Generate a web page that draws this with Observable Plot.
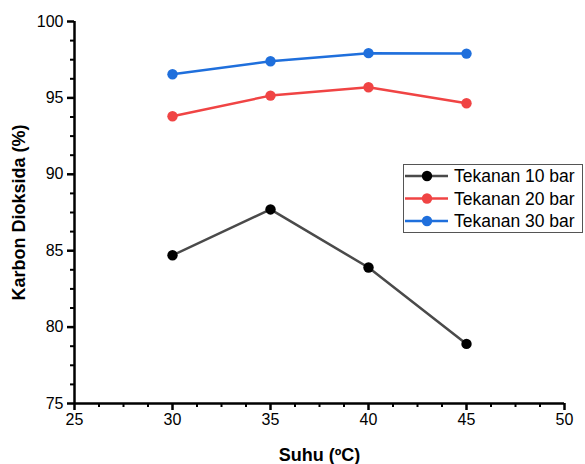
<!DOCTYPE html>
<html><head><meta charset="utf-8">
<script src="https://cdn.jsdelivr.net/npm/d3@7"></script>
<script src="https://cdn.jsdelivr.net/npm/@observablehq/plot@0.6"></script>
<style>
body{margin:0;background:#fff;}
#wrap{position:relative;width:585px;height:464px;font-family:"Liberation Sans",Arial,sans-serif;}
#wrap svg{overflow:visible;}
g[aria-label="y-axis label"] text, g[aria-label="x-axis label"] text{font-weight:bold;font-size:18px;fill:#000;}
#legend{position:absolute;left:403px;top:164px;width:180px;height:69px;border:1.5px solid #555;box-sizing:border-box;background:#fff;}
</style></head><body><div id="wrap"></div>
<script>
const temps=[30,35,40,45];
const seriesNames=["Tekanan 10 bar","Tekanan 20 bar","Tekanan 30 bar"];
const p10=[84.7,87.7,83.9,78.9];
const p20=[93.8,95.15,95.7,94.65];
const p30=[96.55,97.4,97.93,97.9];
const lineColors=["#4a4a4a","#f04444","#1f6fdc"];
const dotColors=["#000000","#f04444","#1f6fdc"];
const xTicks=[25,30,35,40,45,50];
const yTicks=[75,80,85,90,95,100];
const xLabel="Suhu (ºC)";
const yLabel="Karbon Dioksida (%)";

const values=[p10,p20,p30];
const rows=[];
seriesNames.forEach((s,i)=>temps.forEach((t,j)=>rows.push({s,i,t,v:values[i][j]})));
const xMinor=d3.range(xTicks[0],xTicks[xTicks.length-1],1.25).filter(v=>!xTicks.includes(v));
const yMinor=d3.range(yTicks[0],yTicks[yTicks.length-1],1.25).filter(v=>!yTicks.includes(v));

const marks=[
  Plot.axisY(yMinor,{tickSize:4,text:null,strokeWidth:2,label:null}),
  Plot.axisX(xMinor,{tickSize:4,text:null,strokeWidth:2,label:null}),
  Plot.axisY(yTicks,{tickSize:7,tickPadding:4,strokeWidth:2.5,fontSize:16,label:yLabel,labelAnchor:"center",labelArrow:"none",labelOffset:62}),
  Plot.axisX(xTicks,{tickSize:7,tickPadding:3,strokeWidth:2.5,fontSize:16,label:xLabel,labelAnchor:"center",labelArrow:"none",labelOffset:57}),
  Plot.ruleY([yTicks[0]],{strokeWidth:2.5}),
  Plot.ruleX([xTicks[0]],{strokeWidth:2.5})
];
seriesNames.forEach((s,i)=>{
  const d=rows.filter(r=>r.i===i);
  marks.push(Plot.line(d,{x:"t",y:"v",stroke:lineColors[i],strokeWidth:2.5}));
  marks.push(Plot.dot(d,{x:"t",y:"v",fill:dotColors[i],r:5.2,stroke:"none"}));
});

const chart=Plot.plot({
  width:585,height:464,
  marginLeft:74,marginRight:21,marginTop:21,marginBottom:61,
  style:{fontFamily:"'Liberation Sans',Arial,sans-serif",color:"#000",background:"#fff"},
  x:{domain:[xTicks[0],xTicks[xTicks.length-1]]},
  y:{domain:[yTicks[0],yTicks[yTicks.length-1]]},
  marks
});
const wrap=document.getElementById("wrap");
wrap.appendChild(chart);

const leg=d3.select(wrap).append("div").attr("id","legend");
const lsvg=leg.append("svg").attr("width",177).attr("height",66).style("position","absolute").style("left","0").style("top","0");
seriesNames.forEach((s,i)=>{
  const y=11+i*22.5;
  const g=lsvg.append("g").attr("transform",`translate(0,${y})`);
  g.append("line").attr("x1",1).attr("x2",44).attr("y1",0).attr("y2",0).attr("stroke",lineColors[i]).attr("stroke-width",2.5);
  g.append("circle").attr("cx",23).attr("cy",0).attr("r",5.2).attr("fill",dotColors[i]);
  g.append("text").attr("x",50).attr("y",0).attr("dy","0.36em").attr("font-size",17.5).attr("fill","#000").style("font-family","'Liberation Sans',Arial,sans-serif").text(s);
});
</script></body></html>
